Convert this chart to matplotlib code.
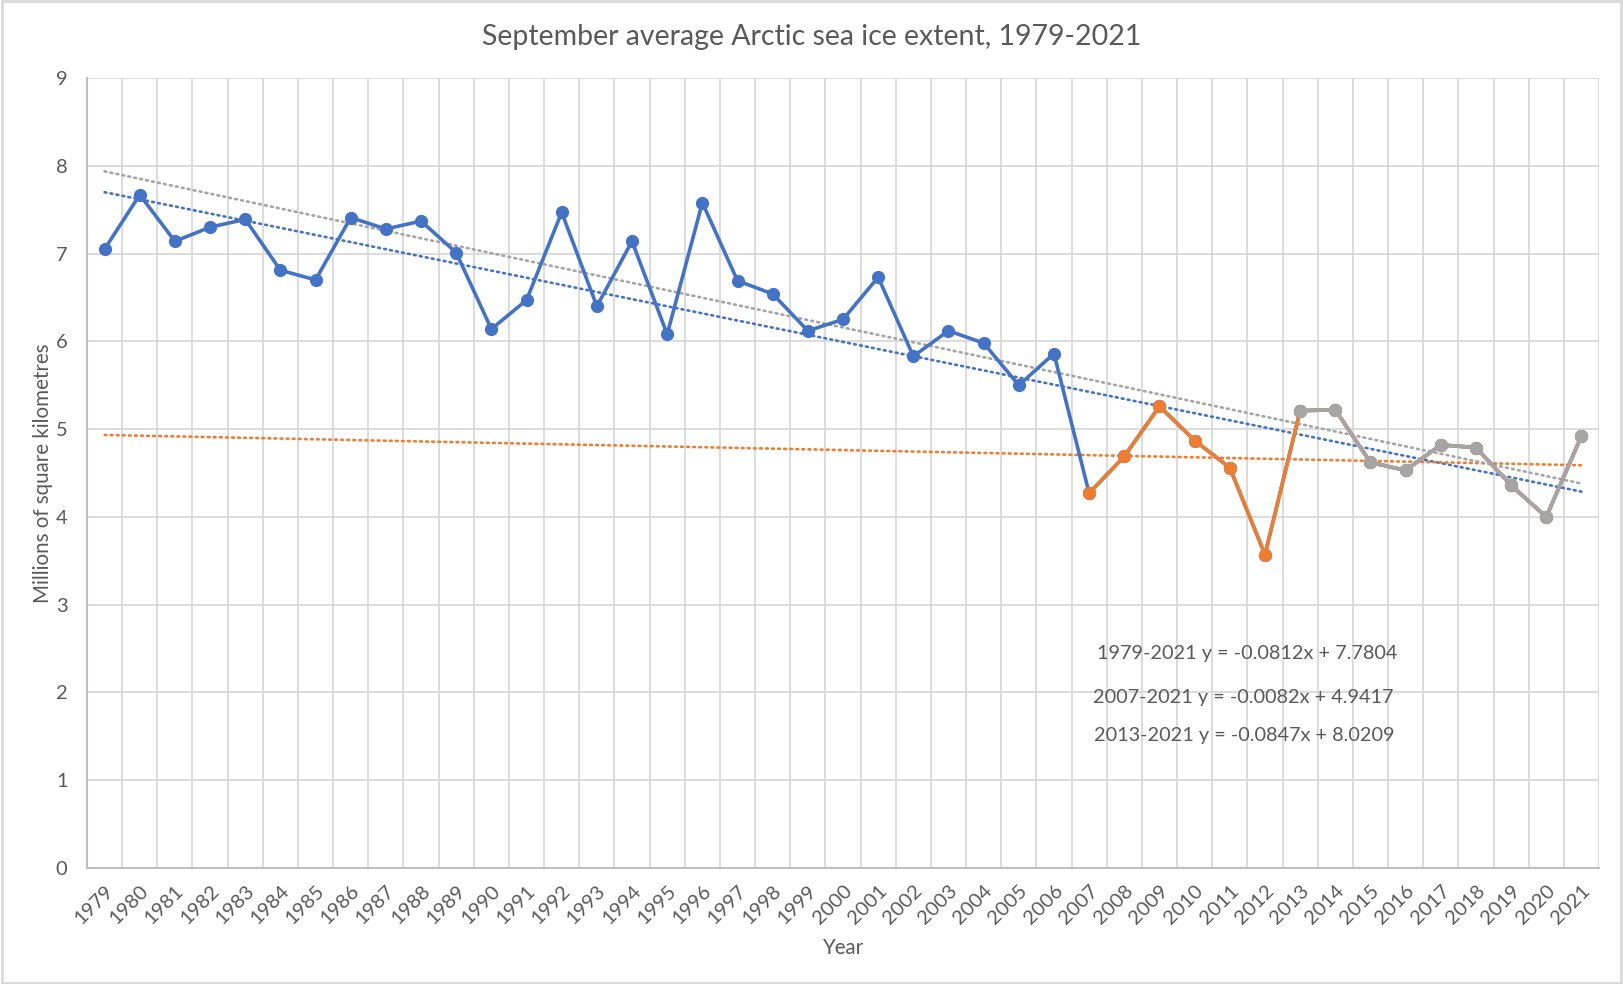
import numpy as np
import matplotlib.pyplot as plt
from matplotlib.patches import Rectangle

plt.rcParams['font.family'] = ['Lato', 'DejaVu Sans']

# September average Arctic sea ice extent (million km^2)
years = list(range(1979, 2022))
extent = [7.05, 7.67, 7.14, 7.30, 7.39, 6.81, 6.70, 7.41, 7.28, 7.37,
          7.01, 6.14, 6.47, 7.47, 6.40, 7.14, 6.08, 7.58, 6.69, 6.54,
          6.12, 6.25, 6.73, 5.83, 6.12, 5.98, 5.50, 5.86, 4.27, 4.69,
          5.26, 4.87, 4.56, 3.57, 5.21, 5.22, 4.62, 4.53, 4.82, 4.79,
          4.36, 4.00, 4.92]
series_starts = [1979, 2007, 2013]
series_colors = ['#4472C4', '#ED7D31', '#A5A5A5']
equations = ['1979-2021 y = -0.0812x + 7.7804',
             '2007-2021 y = -0.0082x + 4.9417',
             '2013-2021 y = -0.0847x + 8.0209']

text_col = '#595959'
grid_col = '#D9D9D9'

fig = plt.figure(figsize=(16.23, 9.84), dpi=100)
ax = fig.add_axes([87/1623, 1 - 868/984, (1599 - 87)/1623, (868 - 78)/984])

x = np.arange(len(years))
vals = np.array(extent)
idx = np.arange(1, len(years) + 1)  # Excel-style 1..n positions for trend lines

# data series, later ones drawn on top
for start, col in zip(series_starts, series_colors):
    m = np.array(years) >= start
    ax.plot(x[m], vals[m], '-o', color=col, lw=2.6, ms=8.5, zorder=3, solid_joinstyle='round')

# linear trend lines across full range
for start, col in zip(series_starts, series_colors):
    m = np.array(years) >= start
    k, b = np.polyfit(idx[m], vals[m], 1)
    ax.plot(x, k * idx + b, linestyle=(0, (0.7, 1.6)), dash_capstyle='round',
            color=col, lw=1.9, zorder=2)

ax.set_xlim(-0.5, len(years) - 0.5)
ax.set_ylim(0, 9)
ax.set_yticks(range(0, 10))
ax.set_xticks(x)
ax.set_xticklabels([str(y) for y in years], rotation=45, ha='right', va='top',
                   rotation_mode='anchor')
ax.tick_params(axis='both', length=0, labelsize=14.5, labelcolor=text_col)
ax.tick_params(axis='y', pad=14)
ax.tick_params(axis='x', pad=10)

# vertical gridlines between categories, horizontal at major ticks
for xb in np.arange(0.5, len(years) - 0.5, 1):
    ax.axvline(xb, color=grid_col, lw=1.3, zorder=0)
ax.axvline(len(years) - 0.5, color=grid_col, lw=1.3, zorder=0)
for yv in range(1, 10):
    ax.axhline(yv, color=grid_col, lw=1.3, zorder=0)

for s in ['top', 'right']:
    ax.spines[s].set_visible(False)
for s in ['left', 'bottom']:
    ax.spines[s].set_color('#BFBFBF')
    ax.spines[s].set_linewidth(1.5)

ax.set_ylabel('Millions of square kilometres', fontsize=14.8, color=text_col, labelpad=2)
ax.set_xlabel('Year', fontsize=14.8, color=text_col, labelpad=8)
fig.text(0.5, 1 - 37/984, 'September average Arctic sea ice extent, 1979-2021',
         ha='center', va='center', fontsize=20.5, color=text_col)

eq_pos = [(1097, 653), (1093, 697), (1094, 735)]
for (px, py), txt in zip(eq_pos, equations):
    fig.text(px/1623, 1 - py/984, txt, ha='left', va='center', fontsize=14.3, color=text_col)

fig.patches.append(Rectangle((0.001, 0.001), 0.998, 0.998, transform=fig.transFigure,
                             fill=False, edgecolor=grid_col, lw=2))

fig.savefig('out.png', dpi=100, facecolor='white')
